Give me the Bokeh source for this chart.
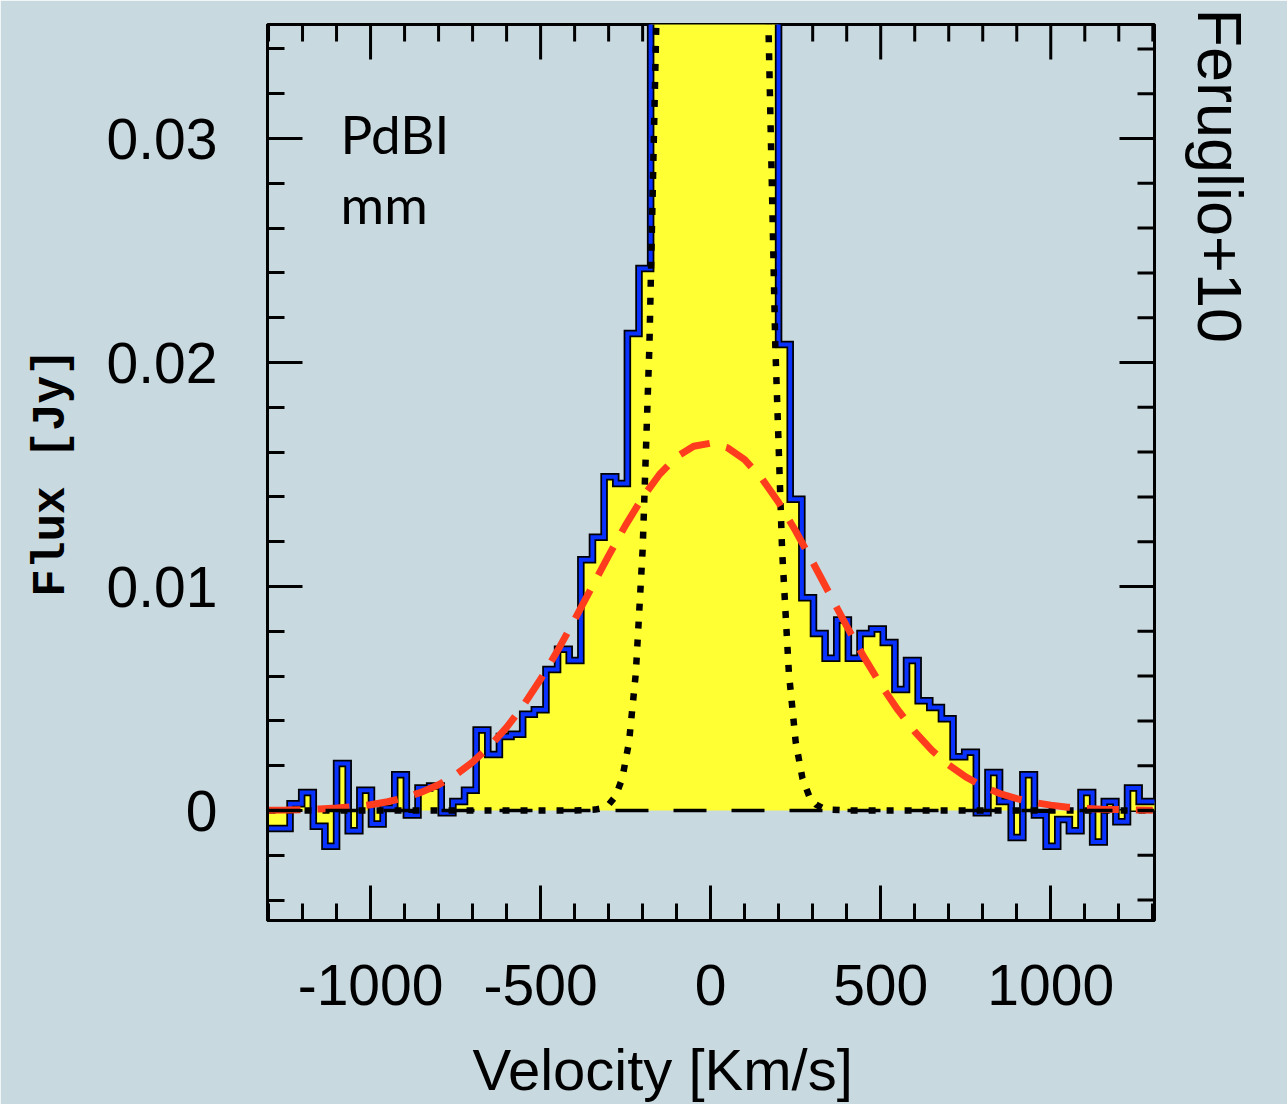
from bokeh.plotting import figure
from bokeh.models import (FixedTicker, CustomJSTickFormatter, Label, Range1d, Span, Title)
from bokeh.embed import file_html
from bokeh.resources import INLINE

# ---------------- data ----------------
CHANNEL_WIDTH = 34.2  # km/s

# channel centres [km/s]
velocity = [
    -1288.0, -1253.8, -1219.6, -1185.4, -1151.2, -1117.0, -1082.8, -1048.6,
    -1014.4, -980.2, -946.0, -911.8, -877.6, -843.4, -809.2, -775.0,
    -740.8, -706.6, -672.4, -638.2, -604.0, -569.8, -535.6, -501.4,
    -467.2, -433.0, -398.8, -364.6, -330.4, -296.2, -262.0, -227.8,
    -193.6, -159.4, -125.2, -91.0, -56.8, -22.6, 11.6, 45.8,
    80.0, 114.2, 148.4, 182.6, 216.8, 251.0, 285.2, 319.4,
    353.6, 387.8, 422.0, 456.2, 490.4, 524.6, 558.8, 593.0,
    627.2, 661.4, 695.6, 729.8, 764.0, 798.2, 832.4, 866.6,
    900.8, 935.0, 969.2, 1003.4, 1037.6, 1071.8, 1106.0, 1140.2,
    1174.4, 1208.6, 1242.8, 1277.0, 1311.2,
]

# observed flux [Jy]; central channels run off the top of the plot (estimated)
flux = [
    -0.0008, -0.0008, 0.0003, 0.0008, -0.0007, -0.0016, 0.0021, -0.0009,
    0.0009, -0.0006, 0.0001, 0.0016, -0.0002, 0.0010, 0.0011, -0.0001,
    0.0004, 0.0009, 0.0036, 0.0025, 0.0033, 0.0034, 0.0043, 0.0045,
    0.0063, 0.0072, 0.0067, 0.0112, 0.0122, 0.0149, 0.0146, 0.0213,
    0.0242, 0.050, 0.090, 0.150, 0.210, 0.260, 0.280, 0.250,
    0.190, 0.125, 0.070, 0.040, 0.0208, 0.0139, 0.0095, 0.0079,
    0.0068, 0.0085, 0.0068, 0.0079, 0.0081, 0.0075, 0.0054, 0.0067,
    0.0049, 0.0046, 0.0041, 0.0024, 0.0026, -0.0001, 0.0017, 0.0004,
    -0.0012, 0.0016, -0.0002, -0.0016, -0.0004, -0.0009, 0.0008, -0.0014,
    0.0004, -0.0005, 0.0010, 0.0004, 0.0004,
]

# broad component (red dashed curve)
broad_v = [
    -1300, -1250, -1200, -1150, -1100, -1050, -1000, -950, -900, -850,
    -800, -750, -700, -650, -600, -550, -500, -450, -400, -350,
    -300, -250, -200, -150, -100, -50, 0, 50, 100, 150,
    200, 250, 300, 350, 400, 450, 500, 550, 600, 650,
    700, 750, 800, 850, 900, 950, 1000, 1050, 1100, 1150,
    1200, 1250, 1300,
]
broad_flux = [
    0.00001, 0.00002, 0.00004, 0.00007, 0.00011, 0.00017, 0.00026, 0.00039, 0.00057, 0.00082,
    0.00115, 0.00159, 0.00216, 0.00286, 0.00371, 0.00471, 0.00586, 0.00714, 0.00852, 0.00995,
    0.01138, 0.01274, 0.01398, 0.01501, 0.01579, 0.01626, 0.01640, 0.01619, 0.01566, 0.01483,
    0.01375, 0.01248, 0.01109, 0.00966, 0.00823, 0.00687, 0.00562, 0.00450, 0.00352, 0.00270,
    0.00203, 0.00150, 0.00108, 0.00076, 0.00053, 0.00036, 0.00024, 0.00015, 0.00010, 0.00006,
    0.00004, 0.00002, 0.00001,
]

# narrow core component (black dotted curve); it leaves the plot near the top (gap = NaN)
core_v = [
    -1300, -400, -340, -320, -300, -280, -260, -240, -220, -200, -180, -160, -140,
    0,
    150, 170, 190, 210, 230, 250, 270, 290, 310, 330, 350, 410, 1300,
]
core_flux = [
    0.0, 0.0, 0.00004, 0.0001, 0.00026, 0.00063, 0.00143, 0.00306, 0.00614, 0.01164, 0.0208, 0.035, 0.0555,
    float("nan"),
    0.0555, 0.035, 0.0208, 0.01164, 0.00614, 0.00306, 0.00143, 0.00063, 0.00026, 0.0001, 0.00004, 0.0, 0.0,
]

x_major = [-1000, -500, 0, 500, 1000]
x_minor = [-1300, -1200, -1100, -900, -800, -700, -600, -400, -300, -200, -100,
           100, 200, 300, 400, 600, 700, 800, 900, 1100, 1200, 1300]
y_major = [0.0, 0.01, 0.02, 0.03]
y_minor = [-0.004, -0.002, 0.002, 0.004, 0.006, 0.008, 0.012, 0.014, 0.016, 0.018,
           0.022, 0.024, 0.026, 0.028, 0.032, 0.034]

# ---------------- style / layout ----------------
BG = "#c9d9e0"
YELLOW = "#ffff33"
BLUE = "#0a32ff"
RED = "#ff3c1e"
TICK_FONT = "Liberation Sans"

X0, X1 = -1303.0, 1305.0
Y0, Y1 = -0.00491, 0.03509
FW, FH = 887, 896
MAJ_LEN, MIN_LEN = 35, 17  # tick lengths in px

p = figure(frame_width=FW, frame_height=FH,
           x_range=Range1d(X0, X1), y_range=Range1d(Y0, Y1),
           output_backend="svg", toolbar_location=None,
           min_border_left=267, min_border_right=133,
           min_border_top=24, min_border_bottom=184,
           background_fill_color=BG, border_fill_color=BG,
           outline_line_color="black", outline_line_width=3)
p.grid.visible = False
p.title.visible = False

# top / right inward ticks (drawn first, so the filled spectrum covers them as in the original)
ux = (X1 - X0) / FW
uy = (Y1 - Y0) / FH
tx = x_major + x_minor
p.segment(x0=tx, y0=[Y1] * len(tx), x1=tx,
          y1=[Y1 - (MAJ_LEN if t in x_major else MIN_LEN) * uy for t in tx],
          line_color="black", line_width=3)
ty = y_major + y_minor
p.segment(x0=[X1] * len(ty), y0=ty,
          x1=[X1 - (MAJ_LEN if t in y_major else MIN_LEN) * ux for t in ty], y1=ty,
          line_color="black", line_width=3)

# step coordinates built from the channel data
half = CHANNEL_WIDTH / 2.0
sx, sy = [], []
for v, f in zip(velocity, flux):
    sx += [v - half, v + half]
    sy += [f, f]

# filled spectrum
p.patch([sx[0]] + sx + [sx[-1]], [0.0] + sy + [0.0],
        fill_color=YELLOW, line_color=None)
# outline: black rim + blue line
p.line(sx, sy, line_color="black", line_width=7.5, line_join="miter")
p.line(sx, sy, line_color=BLUE, line_width=4, line_join="miter")

# zero level
p.add_layout(Span(location=0, dimension="width", line_color="black",
                  line_width=3.5, line_dash="33 25"))

# narrow core component
p.line(core_v, core_flux, line_color="black", line_width=6.5, line_dash="7 11")
# broad component
p.line(broad_v, broad_flux, line_color=RED, line_width=7, line_dash="32 17")


def style_axis(ax):
    ax.axis_line_width = 3
    ax.axis_line_color = "black"
    ax.major_tick_in = MAJ_LEN
    ax.major_tick_out = 0
    ax.minor_tick_in = MIN_LEN
    ax.minor_tick_out = 0
    ax.major_tick_line_width = 3
    ax.minor_tick_line_width = 3
    ax.major_tick_line_color = "black"
    ax.minor_tick_line_color = "black"
    ax.major_label_text_font = TICK_FONT
    ax.major_label_text_color = "black"
    ax.major_label_text_font_size = "57px"


xb = p.xaxis[0]
xb.ticker = FixedTicker(ticks=x_major, minor_ticks=x_minor)
style_axis(xb)
xb.formatter = CustomJSTickFormatter(code="return tick.toFixed(0);")
xb.major_label_standoff = 44
# the original's axis title sits left of centre: trailing no-break spaces shift it
xb.axis_label = "Velocity [Km/s]" + "\u00a0" * 6
xb.axis_label_text_font = TICK_FONT
xb.axis_label_text_font_size = "58px"
xb.axis_label_text_font_style = "normal"
xb.axis_label_text_color = "black"
xb.axis_label_standoff = 29

yl = p.yaxis[0]
yl.ticker = FixedTicker(ticks=y_major, minor_ticks=y_minor)
style_axis(yl)
yl.formatter = CustomJSTickFormatter(code="return tick == 0 ? '0' : tick.toFixed(2);")
yl.major_label_standoff = 50
yl.axis_label = "Flux [Jy]"
yl.axis_label_text_font = "Liberation Mono"
yl.axis_label_text_font_style = "bold"
yl.axis_label_text_font_size = "46px"
yl.axis_label_text_color = "black"
yl.axis_label_standoff = 26

# citation on the right
p.add_layout(Title(text="Feruglio+10", align="left", offset=-16, standoff=60,
                   vertical_align="bottom", text_font=TICK_FONT, text_font_size="63px",
                   text_font_style="normal", text_color="black"), "right")

# in-plot labels
p.add_layout(Label(x=-1088, y=0.03022, text="PdBI", text_font="Lato",
                   text_font_size="53px", text_align="left",
                   text_baseline="alphabetic", text_color="black"))
p.add_layout(Label(x=-1088, y=0.02710, text="mm", text_font="Lato",
                   text_font_size="53px", text_align="left",
                   text_baseline="alphabetic", text_color="black"))

open("out.html", "w").write(file_html(p, INLINE))
